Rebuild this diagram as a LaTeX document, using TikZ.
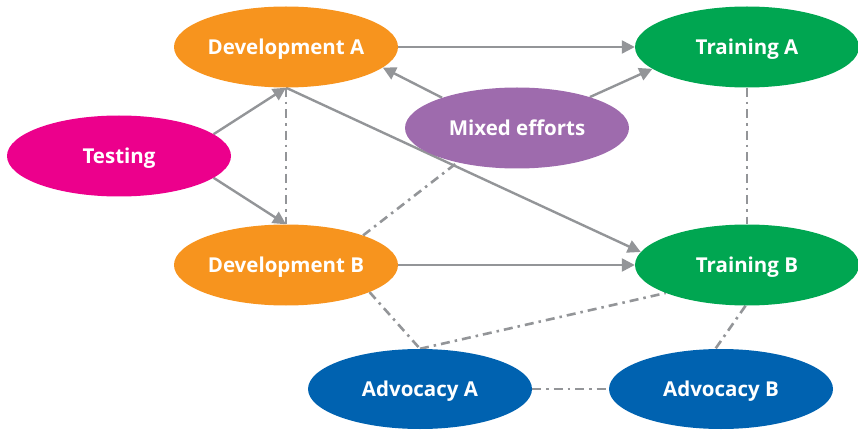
\documentclass[tikz,border=0pt]{standalone}
\usepackage{fontspec}
\setmainfont{Open Sans}
\usetikzlibrary{shapes.geometric,arrows.meta,backgrounds}
\definecolor{cOrange}{HTML}{F7941E}
\definecolor{cGreen}{HTML}{00A651}
\definecolor{cMagenta}{HTML}{EC008C}
\definecolor{cPurple}{HTML}{9E6BAD}
\definecolor{cBlue}{HTML}{0062B0}
\definecolor{cGray}{HTML}{939598}
\begin{document}
\begin{tikzpicture}[x=1pt,y=-1pt,
  blob/.style={ellipse, minimum width=224pt, minimum height=81pt, inner sep=0pt,
    text=white, text height=14.5pt, text depth=0pt, font=\bfseries\fontsize{20.5}{24}\selectfont},
  arr/.style={draw=cGray, line width=2.4pt, -{Triangle[length=13pt,width=13pt]}},
  dd/.style={draw=cGray, line width=2.6pt, dash pattern=on 9pt off 5pt on 2.5pt off 5pt}]
\useasboundingbox (0,0) rectangle (858,430);
\node[blob, fill=cOrange] (devA) at (286,47) {Development A};
\node[blob, fill=cGreen] (trA) at (747,47) {Training A};
\node[blob, fill=cPurple] (mixed) at (517,128) {Mixed efforts};
\node[blob, fill=cMagenta] (testing) at (119,156) {Testing};
\node[blob, fill=cOrange] (devB) at (286,265) {Development B};
\node[blob, fill=cGreen] (trB) at (747,265) {Training B};
\node[blob, fill=cBlue, minimum height=80pt] (advA) at (420,389) {Advocacy A};
\node[blob, fill=cBlue, minimum height=80pt] (advB) at (721,389) {Advocacy B};
\begin{scope}[on background layer]
\draw[arr] (devA.east) -- (trA.west);
\draw[arr] (devB.east) -- (trB.west);
\draw[arr] (testing.13) -- (devA.south);
\draw[arr] (testing.-13) -- (devB.north);
\draw[arr] (mixed.158) -- (devA.-12);
\draw[arr] (mixed.23) -- (trA.-167);
\draw[arr] (devA.south) -- (trB.173);
\draw[dd] (devA.south) -- (devB.north);
\draw[dd] (devB.21) -- (mixed.-150);
\draw[dd] (trA.south) -- (trB.north);
\draw[dd] (devB.-18) -- (advA.north);
\draw[dd] (advA.north) -- (trB.-161);
\draw[dd] (trB.268) -- (advB.98);
\draw[dd] (advA.east) -- (advB.west);
\end{scope}
\end{tikzpicture}
\end{document}
